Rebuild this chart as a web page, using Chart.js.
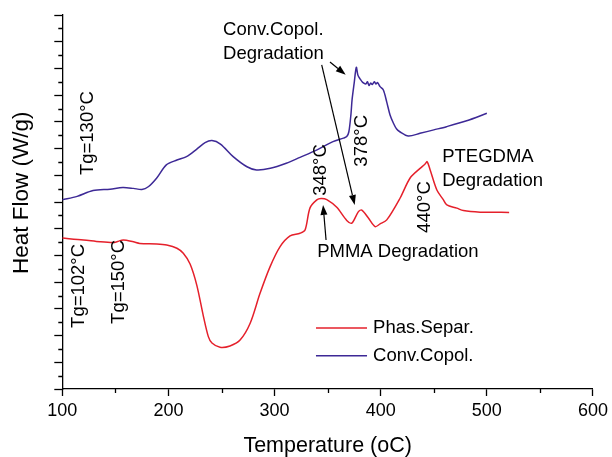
<!DOCTYPE html>
<html>
<head>
<meta charset="utf-8">
<script src="https://cdn.jsdelivr.net/npm/chart.js@4"></script>
<style>
  html, body { margin: 0; padding: 0; background: #fff; }
  #wrap { width: 612px; height: 457px; }
</style>
</head>
<body>
<div id="wrap"><canvas id="dsc" width="612" height="457"></canvas></div>
<script>
// temperatures (oC) and heat flow (arbitrary units)
var convTemp = [100,114,129,145,157,167,175,181,189,198,208,217,227,234.5,241,249,261,274,283,296,311,324,340,355,365,368,370,372,373,375,377,378.5,380.5,383,386,387.5,389,390.5,392,394,395.5,397,399.4,402.5,405.7,408.8,412,415,418,426,437,450,462,481,500];
var convFlow = [7.08,7.21,7.43,7.48,7.54,7.51,7.47,7.57,7.90,8.39,8.57,8.70,8.99,9.22,9.30,9.17,8.70,8.32,8.20,8.26,8.45,8.67,8.95,9.26,9.39,9.45,9.63,10.3,10.82,11.45,12.04,11.75,11.61,11.48,11.42,11.50,11.36,11.45,11.40,11.50,11.42,11.47,11.32,11.19,10.74,10.26,9.95,9.73,9.63,9.47,9.57,9.70,9.82,10.04,10.32];

var phasTemp = [100,120,135.5,148,152,157.5,167,173,189,198.4,208,214,220.4,226.7,232.9,237.6,241,248.6,258,267.5,277,286.3,295.8,305.2,314.6,324,328.7,333.4,339.8,343.8,349.2,358.6,368,372.8,379,382.2,388.4,394.7,399.4,405.7,418.3,427.7,437.1,441.8,443.7,446.6,452.9,459.1,462.3,471.7,477.9,493.7,506.2,521];
var phasFlow = [5.65,5.58,5.51,5.48,5.52,5.58,5.51,5.45,5.43,5.39,5.27,5.08,4.68,3.89,2.73,1.96,1.72,1.56,1.61,1.83,2.46,3.58,4.58,5.33,5.73,5.83,5.95,6.78,7.08,7.13,7.09,6.80,6.31,6.21,6.64,6.70,6.40,6.08,6.18,6.33,7.15,7.90,8.26,8.42,8.51,8.20,7.45,7.08,6.89,6.77,6.68,6.62,6.62,6.61];

var seriesNames = ["Phas.Separ.", "Conv.Copol."];
var xTicks = [100,200,300,400,500,600];

var FONT = "'Liberation Sans', Arial, sans-serif";

function toXY(xs, ys){
  return xs.map(function(x, i){ return {x: x, y: ys[i]}; });
}

// annotation texts, placed in data units
var notes = [
  {text: "Tg=130°C", x: 124.2, y: 9.58, rot: true},
  {text: "Tg=102°C", x: 115.7, y: 3.86, rot: true},
  {text: "Tg=150°C", x: 153.4, y: 4.01, rot: true},
  {text: "348°C", x: 343.8, y: 8.20, rot: true},
  {text: "378°C", x: 382.5, y: 9.29, rot: true},
  {text: "440°C", x: 441.7, y: 6.81, rot: true},
  {text: "Conv.Copol.", x: 251.5, y: 13.44},
  {text: "Degradation", x: 251.5, y: 12.55},
  {text: "PTEGDMA", x: 457.9, y: 8.69},
  {text: "Degradation", x: 457.9, y: 7.78},
  {text: "PMMA Degradation", x: 340.1, y: 5.13}
];
var arrows = [
  {x1: 352.2, y1: 12.24, x2: 367, y2: 11.76},
  {x1: 344.4, y1: 12.13, x2: 375.5, y2: 6.89},
  {x1: 348.5, y1: 5.58, x2: 345.7, y2: 6.89}
];

var extras = {
  id: "extras",
  afterDraw: function(chart){
    var ctx = chart.ctx, xs = chart.scales.x, ys = chart.scales.y;
    var area = chart.chartArea;
    ctx.save();
    // minor ticks
    ctx.strokeStyle = "#000";
    ctx.lineWidth = 1.3;
    ctx.beginPath();
    for (var t = 150; t < 600; t += 100) {
      var px = Math.round(xs.getPixelForValue(t)) + 0.5;
      ctx.moveTo(px, area.bottom); ctx.lineTo(px, area.bottom + 4);
    }
    for (var v = 0.5; v < 14; v += 1) {
      var py = Math.round(ys.getPixelForValue(v)) + 0.5;
      ctx.moveTo(area.left, py); ctx.lineTo(area.left - 4, py);
    }
    ctx.stroke();

    // y axis title (sits a bit above the axis centre in the original)
    ctx.fillStyle = "#000";
    ctx.font = "22.5px " + FONT;
    ctx.textAlign = "center";
    ctx.textBaseline = "middle";
    ctx.save();
    ctx.translate(22, ys.getPixelForValue(7.35));
    ctx.rotate(-Math.PI / 2);
    ctx.fillText("Heat Flow (W/g)", 0, 0);
    ctx.restore();

    // texts
    ctx.font = "18.5px " + FONT;
    notes.forEach(function(n){
      var px = xs.getPixelForValue(n.x), py = ys.getPixelForValue(n.y);
      if (n.rot) {
        ctx.save();
        ctx.translate(px, py);
        ctx.rotate(-Math.PI / 2);
        ctx.textAlign = "center";
        ctx.fillText(n.text, 0, 0);
        ctx.restore();
      } else {
        ctx.textAlign = "left";
        ctx.fillText(n.text, px, py);
      }
    });

    // arrows
    ctx.lineWidth = 1.2;
    arrows.forEach(function(a){
      var x1 = xs.getPixelForValue(a.x1), y1 = ys.getPixelForValue(a.y1);
      var x2 = xs.getPixelForValue(a.x2), y2 = ys.getPixelForValue(a.y2);
      var ang = Math.atan2(y2 - y1, x2 - x1);
      var hl = 10, hw = 3.5;
      ctx.beginPath();
      ctx.moveTo(x1, y1);
      ctx.lineTo(x2 - hl * Math.cos(ang), y2 - hl * Math.sin(ang));
      ctx.stroke();
      ctx.beginPath();
      ctx.moveTo(x2, y2);
      ctx.lineTo(x2 - hl * Math.cos(ang) + hw * Math.sin(ang), y2 - hl * Math.sin(ang) - hw * Math.cos(ang));
      ctx.lineTo(x2 - hl * Math.cos(ang) - hw * Math.sin(ang), y2 - hl * Math.sin(ang) + hw * Math.cos(ang));
      ctx.closePath();
      ctx.fill();
    });

    // legend
    var rows = [
      {label: seriesNames[0], color: chart.data.datasets[0].borderColor, y: 2.28},
      {label: seriesNames[1], color: chart.data.datasets[1].borderColor, y: 1.24}
    ];
    rows.forEach(function(r){
      var py = ys.getPixelForValue(r.y);
      var lx1 = xs.getPixelForValue(339), lx2 = xs.getPixelForValue(387.1);
      ctx.strokeStyle = r.color;
      ctx.lineWidth = 1.5;
      ctx.beginPath();
      ctx.moveTo(lx1, py); ctx.lineTo(lx2, py);
      ctx.stroke();
      ctx.fillStyle = "#000";
      ctx.textAlign = "left";
      ctx.fillText(r.label, xs.getPixelForValue(392.8), py);
    });
    ctx.restore();
  }
};

new Chart(document.getElementById("dsc"), {
  type: "line",
  data: {
    datasets: [{
      label: seriesNames[0],
      data: toXY(phasTemp, phasFlow),
      borderColor: "#e5202b",
      borderWidth: 1.5,
      pointRadius: 0,
      tension: 0.3,
      fill: false
    }, {
      label: seriesNames[1],
      data: toXY(convTemp, convFlow),
      borderColor: "#3d2996",
      borderWidth: 1.5,
      pointRadius: 0,
      tension: 0.3,
      fill: false
    }]
  },
  options: {
    responsive: false,
    animation: false,
    layout: { padding: { top: 15, right: 19, left: 0, bottom: 0 } },
    plugins: { legend: { display: false }, tooltip: { enabled: false } },
    scales: {
      x: {
        type: "linear",
        min: 100, max: 600,
        afterBuildTicks: function(s){ s.ticks = xTicks.map(function(v){ return {value: v}; }); },
        afterFit: function(s){ s.height = 68; },
        grid: { display: true, drawOnChartArea: false, tickLength: 7, tickColor: "#000", tickWidth: 1.3 },
        border: { display: true, color: "#000", width: 1.3 },
        ticks: { color: "#000", font: { family: FONT, size: 18 }, padding: 4 },
        title: { display: true, text: "Temperature (oC)", color: "#000",
                 font: { family: FONT, size: 21.5, lineHeight: 1 }, padding: { top: 0, bottom: 0 } }
      },
      y: {
        min: 0, max: 14,
        ticks: { stepSize: 1, display: false },
        afterFit: function(s){ s.width = 62.3; },
        grid: { display: true, drawOnChartArea: false, tickLength: 8, tickColor: "#000", tickWidth: 1.3 },
        border: { display: true, color: "#000", width: 1.3 },
        title: { display: false }
      }
    }
  },
  plugins: [extras]
});
</script>
</body>
</html>
